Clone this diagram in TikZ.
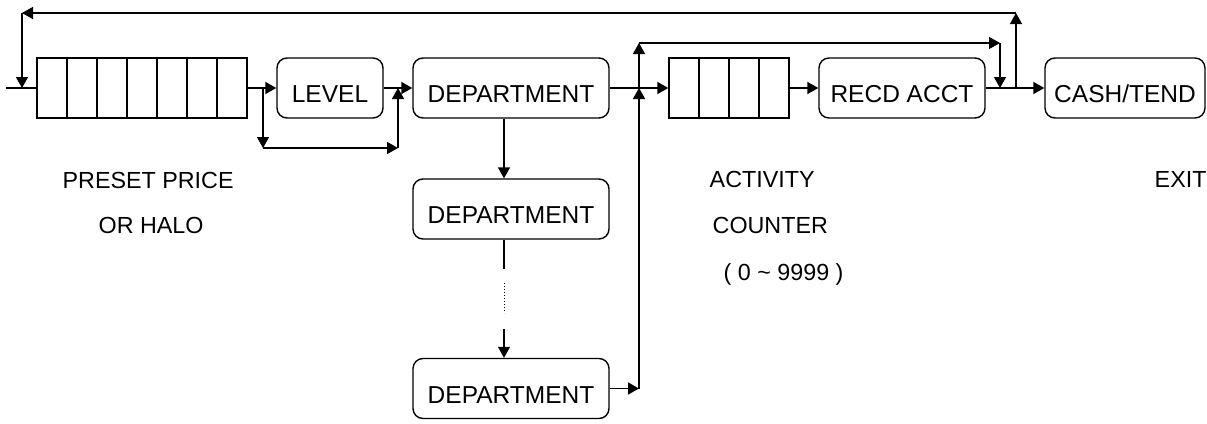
\documentclass[tikz,border=0pt]{standalone}
\usepackage{fontspec}
\setmainfont{Liberation Sans}
\usetikzlibrary{arrows.meta}
\begin{document}
\begin{tikzpicture}[x=1pt,y=-1pt,
  line width=1.4pt,
  every node/.style={font=\fontsize{24.5}{28}\selectfont},
  rbox/.style={draw,rounded corners=10pt,minimum height=60pt,inner sep=0pt,text height=29pt,text depth=0pt},
  regbox/.style={draw,minimum height=60pt,inner sep=0pt},
  arr/.style={-{Triangle[length=11pt,width=12pt]}},
  lbl/.style={anchor=base west,inner sep=0pt,font=\fontsize{23.3}{27}\selectfont}]
\useasboundingbox (0,0) rectangle (1207,423);
% registers
\node[regbox,minimum width=210pt] (reg) at (142,88) {};
\foreach \x in {67,97,127,157,187,217} \draw (\x,58) -- (\x,118);
\node[regbox,minimum width=120pt] (cnt) at (729,88) {};
\foreach \x in {699,729,759} \draw (\x,58) -- (\x,118);
% boxes
\node[rbox,minimum width=106pt] (level) at (330,88) {LEVEL};
\node[rbox,minimum width=196pt] (dep1) at (511,88) {DEPARTMENT};
\node[rbox,minimum width=196pt] (dep2) at (511,209) {DEPARTMENT};
\node[rbox,minimum width=196pt] (dep3) at (511,388.5) {DEPARTMENT};
\node[rbox,minimum width=166pt] (recd) at (902,88) {RECD ACCT};
\node[rbox,minimum width=160pt] (cash) at (1125,88) {CASH/TEND};
% labels
\node[lbl] (l1) at (62,188) {PRESET PRICE};
\node[lbl] (l2) at (98,233) {OR HALO};
\node[lbl] (l3) at (709,187) {ACTIVITY};
\node[lbl] (l4) at (712,233) {COUNTER};
\node[lbl] (l5) at (723,280) {( 0 \textasciitilde{} 9999 )};
\node[lbl] (l6) at (1154,187) {EXIT};
% coordinates
\coordinate (in) at (6,88);
\coordinate (fa) at (22,13);
\coordinate (fb) at (22,88);
\coordinate (fc) at (1016,13);
\coordinate (fd) at (1016,88);
\coordinate (b1) at (263,88);
\coordinate (b2) at (263,148);
\coordinate (b3) at (398,148);
\coordinate (b4) at (398,88);
\coordinate (v1) at (639,388.5);
\coordinate (v2) at (639,88);
\coordinate (v3) at (639,43);
\coordinate (v4) at (1000,43);
\coordinate (v5) at (1000,88);
\coordinate (d1) at (504,269);
\coordinate (d2) at (504,283);
\coordinate (d3) at (504,313);
\coordinate (d4) at (504,329);
% connectors
\draw (in) -- (reg.west);
\draw[arr] (reg.east) -- (level.west);
\draw[arr] (b1) -- (b2);
\draw[arr] (b2) -- (b3);
\draw[arr] (b3) -- (b4);
\draw[arr] (level.east) -- (dep1.west);
\draw[arr] (dep1.east) -- (cnt.west);
\draw[arr] (cnt.east) -- (recd.west);
\draw[arr] (recd.east) -- (cash.west);
\draw[arr] (fd) -- (fc);
\draw[arr] (fc) -- (fa);
\draw[arr] (fa) -- (fb);
\draw[arr] (dep3.east) -- (v1);
\draw[arr] (v1) -- (v2);
\draw[arr] (v2) -- (v3);
\draw[arr] (v3) -- (v4);
\draw[arr] (v4) -- (v5);
\draw[arr] (dep1.south -| d1) -- (dep2.north -| d1);
\draw (dep2.south -| d1) -- (d1);
\draw[dotted,line width=1pt] (d2) -- (d3);
\draw[arr] (d4) -- (dep3.north -| d4);
\end{tikzpicture}
\end{document}
